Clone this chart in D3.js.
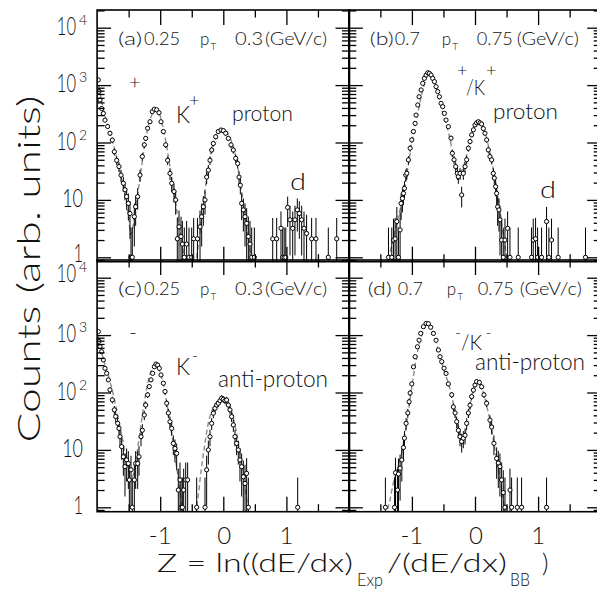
<!DOCTYPE html>
<html><head><meta charset="utf-8">
<script src="https://cdn.jsdelivr.net/npm/d3@7"></script>
<style>
body{margin:0;background:#fff}
svg{display:block}
text{font-family:Lato,"Liberation Sans",Arial,sans-serif;font-weight:300;fill:#111}
</style>
</head><body>
<svg id="chart" width="597" height="597"></svg>
<script>
// ---------- DATA ----------
// Panel (a): positive particles, 0.25 < pT < 0.3 GeV/c
const zA = [-1.981,-1.970,-1.954,-1.928,-1.901,-1.875,-1.833,-1.796,-1.759,-1.727,-1.690,-1.653,-1.621,-1.584,-1.558,-1.532,-1.505,-1.479,-1.463,-1.442,-1.410,-1.389,-1.357,-1.320,-1.283,-1.252,-1.230,-1.199,-1.162,-1.125,-1.093,-1.056,-1.019,-0.987,-0.950,-0.913,-0.882,-0.845,-0.818,-0.781,-0.755,-0.729,-0.702,-0.670,-0.649,-0.618,-0.581,-0.544,-0.501,-0.470,-0.410,-0.369,-0.343,-0.316,-0.290,-0.264,-0.237,-0.211,-0.184,-0.158,-0.121,-0.079,-0.036,0.001,0.038,0.080,0.122,0.159,0.196,0.228,0.249,0.270,0.291,0.318,0.344,0.370,0.397,0.423,0.450,0.492,0.783,0.846,0.914,0.941,0.965,0.990,1.020,1.057,1.100,1.136,1.173,1.205,1.242,1.279,1.320,1.400,1.469,1.664,1.797];
const cA = [1230,780,550,390,320,245,190,145,110,69,49,38,27,19.5,15,11.4,8.7,5.8,1,1,5.1,7.6,11.4,27,57,91,118,177,230,345,380,370,330,230,155,91,49,29,19.5,14,10,2.1,3.4,2.3,1.7,1,1.7,1,1,2.1,2.1,3.4,5.1,7.6,10,25,33,49,74,96,126,155,165,161,145,118,91,74,53,43,25,18,8.7,6.7,5.1,3.9,2.3,1.7,1,1,2.1,2.1,3.2,1,1,1,7.4,4.5,3.2,4.5,6.7,5.8,4.5,3.2,2.6,2.1,2.1,1,2.1];
const fzA = [-2.0,-1.95,-1.9,-1.85,-1.8,-1.75,-1.7,-1.65,-1.6,-1.55,-1.5,-1.47,-1.44,-1.4,-1.35,-1.3,-1.25,-1.2,-1.15,-1.1,-1.07,-1.04,-1.0,-0.95,-0.9,-0.85,-0.8,-0.75,-0.7,-0.65,-0.6,-0.55,-0.5,-0.45,-0.4,-0.35,-0.3,-0.25,-0.2,-0.15,-0.1,-0.05,0.0,0.05,0.1,0.15,0.2,0.25,0.3,0.35,0.4,0.45,0.5];
const fcA = [1400,700,380,230,150,100,60,35,20,11,5,2.5,3,6,14,35,85,170,270,350,370,355,290,170,90,40,17,8,3.5,1.6,0.8,0.5,0.5,0.7,1.5,4,12,30,65,105,140,160,165,155,125,90,55,28,12,5,2,0.9,0.5];

// Panel (b): positive particles, 0.7 < pT < 0.75 GeV/c
const zB = [-1.371,-1.319,-1.292,-1.266,-1.239,-1.213,-1.187,-1.171,-1.150,-1.134,-1.118,-1.097,-1.081,-1.055,-1.028,-1.002,-0.976,-0.949,-0.934,-0.907,-0.886,-0.854,-0.828,-0.802,-0.775,-0.749,-0.723,-0.696,-0.670,-0.643,-0.617,-0.591,-0.564,-0.538,-0.512,-0.485,-0.459,-0.422,-0.380,-0.359,-0.332,-0.306,-0.280,-0.264,-0.237,-0.211,-0.185,-0.158,-0.132,-0.105,-0.079,-0.053,-0.026,0.0,0.026,0.053,0.079,0.105,0.132,0.158,0.185,0.211,0.237,0.264,0.290,0.306,0.327,0.343,0.359,0.380,0.396,0.422,0.448,0.475,0.517,0.554,0.685,0.896,0.923,0.960,0.992,1.055,1.134,1.171,1.213,1.318,1.751];
const cB = [1,1,2,2.1,4.2,1,3,8.7,10.6,13,15.9,27.2,29.1,49.8,79.5,111,155,215,300,450,627,823,1074,1311,1497,1640,1600,1497,1311,1150,940,771,627,481,421,322,246,189,119,65,50,38,29,25.4,29,12.2,29,38,50,79.5,104,136,166,202,220,230,220,210,175,145,111,74.4,57,49.8,29,24,17,13,7.6,6.7,4.5,2,1,2,3.2,1,1,1,2,2.1,1,1,4.2,1,2,1,1];
const fzB = [-1.45,-1.4,-1.35,-1.3,-1.25,-1.2,-1.15,-1.1,-1.05,-1.0,-0.95,-0.9,-0.85,-0.8,-0.77,-0.75,-0.72,-0.7,-0.65,-0.6,-0.55,-0.5,-0.45,-0.4,-0.35,-0.3,-0.27,-0.24,-0.2,-0.15,-0.1,-0.05,0.0,0.05,0.1,0.15,0.2,0.25,0.3,0.35,0.4,0.45,0.5,0.55];
const fcB = [0.5,0.8,1.2,2,3.5,6,10,20,45,100,190,350,650,1050,1400,1600,1620,1550,1200,780,480,300,200,120,62,40,32,30,35,50,85,140,200,230,210,160,100,55,30,14,6,2.5,1,0.5];

// Panel (c): negative particles, 0.25 < pT < 0.3 GeV/c
const zC = [-1.981,-1.970,-1.954,-1.928,-1.901,-1.875,-1.849,-1.822,-1.796,-1.759,-1.727,-1.706,-1.674,-1.653,-1.637,-1.611,-1.584,-1.558,-1.532,-1.505,-1.489,-1.463,-1.442,-1.410,-1.389,-1.357,-1.336,-1.304,-1.283,-1.252,-1.230,-1.199,-1.173,-1.146,-1.120,-1.093,-1.067,-1.040,-1.014,-0.987,-0.950,-0.924,-0.897,-0.871,-0.845,-0.818,-0.792,-0.766,-0.739,-0.713,-0.686,-0.670,-0.649,-0.628,-0.596,-0.565,-0.422,-0.290,-0.264,-0.237,-0.211,-0.184,-0.158,-0.132,-0.105,-0.079,-0.052,-0.026,0.001,0.027,0.053,0.080,0.106,0.132,0.159,0.185,0.211,0.238,0.264,0.291,0.317,0.344,0.370,0.397,1.179];
const cC = [1148,781,627,514,369,264,216,166,111,74.4,49.8,38.1,29.1,23.7,17,11.4,7.6,5.1,6.7,5.8,3,4.5,1,3,5.8,5.8,7.6,17,22,40.5,60.5,91,127,166,216,281,313,300,264,202,145,104,65,44,31,23.7,13,10.6,8.7,2,3,1,1,2,3,3,1,1,4.5,10,17,29,43.6,53,60.5,65,72,79.5,76,72,74,60.5,49.8,38,27.2,17,13,10,6.7,5.1,3.4,2.6,3.9,1,1];
const fzC = [-2.0,-1.95,-1.9,-1.85,-1.8,-1.75,-1.7,-1.65,-1.6,-1.55,-1.5,-1.47,-1.44,-1.4,-1.35,-1.3,-1.25,-1.2,-1.15,-1.1,-1.07,-1.04,-1.0,-0.95,-0.9,-0.85,-0.8,-0.75,-0.7,-0.65,-0.6,-0.55,-0.5,-0.45,-0.4,-0.35,-0.3,-0.25,-0.2,-0.15,-0.1,-0.05,0.0,0.05,0.1,0.15,0.2,0.25,0.3,0.35,0.4,0.45];
const fcC = [1300,650,380,250,160,100,55,30,16,8,4.5,3.5,3.5,5,12,30,70,140,230,290,305,290,220,140,70,32,14,6,2.5,1,0.5,0.3,0.3,0.6,1.5,4.5,11,25,42,57,68,74,75,70,58,40,22,11,5,2,0.8,0.4];

// Panel (d): negative particles, 0.7 < pT < 0.75 GeV/c
const zD = [-1.420,-1.275,-1.260,-1.229,-1.213,-1.187,-1.160,-1.134,-1.118,-1.092,-1.065,-1.044,-1.028,-1.002,-0.975,-0.949,-0.912,-0.886,-0.860,-0.818,-0.775,-0.738,-0.702,-0.659,-0.617,-0.580,-0.554,-0.527,-0.490,-0.459,-0.422,-0.369,-0.343,-0.316,-0.290,-0.264,-0.237,-0.211,-0.185,-0.158,-0.132,-0.105,-0.079,-0.053,-0.026,0.0,0.026,0.069,0.105,0.142,0.184,0.237,0.264,0.300,0.343,0.369,0.395,0.422,0.448,0.475,0.554,0.580,0.670,0.738,1.134];
const cD = [1,1,4,2,3.8,4.8,6.7,11,16,29,44,69,98,141,280,420,625,815,1070,1400,1600,1580,1370,1070,815,550,420,345,265,215,141,91,56,44,31,22,17,14,16,18,29,44,60,85,110,135,155,150,126,91,65,33,25,13,7.1,5.9,5.1,3,1.8,1,2,1,1,1,1];
const fzD = [-1.45,-1.4,-1.35,-1.3,-1.25,-1.2,-1.15,-1.1,-1.05,-1.0,-0.95,-0.9,-0.85,-0.8,-0.77,-0.75,-0.72,-0.7,-0.65,-0.6,-0.55,-0.5,-0.45,-0.4,-0.35,-0.3,-0.25,-0.2,-0.15,-0.1,-0.05,0.0,0.03,0.07,0.1,0.15,0.2,0.25,0.3,0.35,0.4,0.45,0.5];
const fcD = [0.5,0.8,1.3,2.5,4,6,10,22,50,130,290,580,950,1350,1550,1580,1500,1380,1000,650,400,260,180,120,70,35,20,15,20,40,85,135,150,145,125,85,50,28,13,6,3,1.3,0.6];

// Labels
const panelTags = ["(a)", "(b)", "(c)", "(d)"];
const ptLow = ["0.25", "0.7", "0.25", "0.7"];
const ptHigh = ["0.3", "0.75", "0.3", "0.75"];
const yMajorTicks = [1, 10, 100, 1000, 10000];
const yTickExp = ["", "", "2", "3", "4"];
const xMajorTicks = [-1, 0, 1];
const xMinorTicks = [-1.5, -0.5, 0.5, 1.5];
const xTickLabels = ["-1", "0", "1"];

// ---------- LAYOUT ----------
const svg = d3.select("#chart");
const cols = [[97.1, 349.5], [348.8, 601.2]];
const rows = [{top: 10, one: 257.3}, {top: 260, one: 507.3}];
const PH = 251.7, DEC = 57.4;
const panels = [
  {z: zA, c: cA, fz: fzA, fc: fcA, col: 0, row: 0},
  {z: zB, c: cB, fz: fzB, fc: fcB, col: 1, row: 0},
  {z: zC, c: cC, fz: fzC, fc: fcC, col: 0, row: 1},
  {z: zD, c: cD, fz: fzD, fc: fcD, col: 1, row: 1}
];

function txt(g, s, x, y, size, o = {}) {
  const t = g.append("text").attr("x", x).attr("y", y).attr("font-size", size).text(s);
  if (o.anchor) t.attr("text-anchor", o.anchor);
  if (o.len) t.attr("textLength", o.len).attr("lengthAdjust", "spacingAndGlyphs");
  return t;
}
// horizontally condensed text via a scale transform
function ctxt(g, s, x, y, size, sx, anchor) {
  return g.append("text").attr("transform", `translate(${x},${y}) scale(${sx},1)`)
    .attr("font-size", size).attr("text-anchor", anchor || "start").text(s);
}

panels.forEach((p, i) => {
  const [x0, x1] = cols[p.col];
  const top = rows[p.row].top, bot = top + PH, one = rows[p.row].one;
  const x = d3.scaleLinear().domain([-2, 2]).range([x0, x1]);
  const y = d3.scaleLog().domain([1, 1e4]).range([one, one - 4 * DEC]);
  const g = svg.append("g");
  const cid = "clip" + i;
  g.append("clipPath").attr("id", cid).append("rect")
    .attr("x", x0).attr("y", top).attr("width", x1 - x0).attr("height", PH);

  // fit curve
  const fitPts = p.fz.map((v, k) => [v, p.fc[k]]);
  g.append("path").attr("clip-path", `url(#${cid})`)
    .attr("d", d3.line().x(d => x(d[0])).y(d => y(Math.max(d[1], 0.3))).curve(d3.curveMonotoneX)(fitPts))
    .attr("fill", "none").attr("stroke", "#8a8a8a").attr("stroke-width", 1.4).attr("stroke-dasharray", "5,3");

  // data points with error bars
  const pts = p.z.map((v, k) => ({z: v, c: p.c[k], e: Math.sqrt(p.c[k]) + 1.3}));
  const dg = g.append("g").attr("clip-path", `url(#${cid})`);
  dg.selectAll("line.err").data(pts).join("line").attr("class", "err")
    .attr("x1", d => x(d.z)).attr("x2", d => x(d.z))
    .attr("y1", d => y(d.c + d.e)).attr("y2", d => y(Math.max(d.c - d.e, 0.3)))
    .attr("stroke", "#000").attr("stroke-width", 1);
  dg.selectAll("circle").data(pts).join("circle")
    .attr("cx", d => x(d.z)).attr("cy", d => y(d.c)).attr("r", 2.1)
    .attr("fill", "#fff").attr("stroke", "#000").attr("stroke-width", 1);

  // frame
  g.append("rect").attr("x", x0).attr("y", top).attr("width", x1 - x0).attr("height", PH)
    .attr("fill", "none").attr("stroke", "#000").attr("stroke-width", 1.6);

  // y ticks (left and right)
  const inside = v => y(v) >= top - 0.5 && y(v) <= bot + 0.5;
  const yMaj = yMajorTicks.filter(inside);
  const yMin = [];
  for (let n = -1; n <= 4; n++) for (let k = 2; k <= 9; k++) { const v = k * Math.pow(10, n); if (inside(v)) yMin.push(v); }
  const strip = s => s.select(".domain").remove();
  const tickStyle = s => s.selectAll("line").attr("stroke", "#000").attr("stroke-width", 1.3);
  [[d3.axisRight, x0], [d3.axisLeft, x1]].forEach(([ax, xp]) => {
    g.append("g").attr("transform", `translate(${xp},0)`)
      .call(ax(y).tickValues(yMaj).tickSize(14).tickFormat("")).call(strip).call(tickStyle);
    g.append("g").attr("transform", `translate(${xp},0)`)
      .call(ax(y).tickValues(yMin).tickSize(7.5).tickFormat("")).call(strip).call(tickStyle);
  });
  // x ticks (top and bottom)
  [[d3.axisBottom, top], [d3.axisTop, bot]].forEach(([ax, yp]) => {
    g.append("g").attr("transform", `translate(0,${yp})`)
      .call(ax(x).tickValues(xMajorTicks).tickSize(15).tickFormat("")).call(strip).call(tickStyle);
    g.append("g").attr("transform", `translate(0,${yp})`)
      .call(ax(x).tickValues(xMinorTicks).tickSize(7.5).tickFormat("")).call(strip).call(tickStyle);
  });

  // y tick labels
  if (p.col === 0) {
    yMajorTicks.forEach((v, k) => {
      let yy = y(v) + 7;
      if (p.row === 1 && v === 10000) yy = y(v) + 4.5;
      if (p.row === 0 && v === 1) yy = y(v) + 5;
      if (yTickExp[k]) {
        ctxt(svg, "10", 76, yy, 25, 0.66, "end");
        txt(svg, yTickExp[k], 79, yy - 10, 14);
      } else if (v === 1) {
        ctxt(svg, "1", 83, yy, 25, 0.66, "end");
      } else {
        ctxt(svg, "10", 83, yy, 25, 0.72, "end");
      }
    });
  }
  // x tick labels
  if (p.row === 1) {
    xMajorTicks.forEach((v, k) => txt(svg, xTickLabels[k], x(v) + (v === 0 ? 1 : 0), 543.5, 24, {anchor: "middle"}));
  }

  // pT annotation
  const bl = top + 35;
  const off = p.col === 0 ? [21, 47, 103, 138, 168] : (p.row === 0 ? [21, 46, 93, 128, 168] : [19, 49, 98, 129, 171]);
  txt(svg, panelTags[i], x0 + off[0], bl, 17, {len: 24});
  txt(svg, ptLow[i], x0 + off[1], bl, 17, {len: ptLow[i].length > 3 ? 36 : 25});
  txt(svg, "p", x0 + off[2], bl, 17);
  txt(svg, "T", x0 + off[2] + 10.5, bl + 5, 10);
  txt(svg, ptHigh[i], x0 + off[3], bl, 17, {len: ptHigh[i].length > 3 ? 36 : 28});
  txt(svg, "(GeV/c)", x0 + off[4], bl, 17, {len: 62});
});

// particle labels
txt(svg, "+", 129, 89, 20);
txt(svg, "K", 176, 123, 23, {len: 14});
txt(svg, "+", 189, 106, 18);
txt(svg, "proton", 232, 121, 22, {len: 61});
txt(svg, "d", 290, 190, 24, {len: 16});

txt(svg, "+", 457, 76, 18);
txt(svg, "/K", 466, 95, 22, {len: 19});
txt(svg, "+", 486, 76, 18);
txt(svg, "proton", 493, 119, 22, {len: 65});
txt(svg, "d", 540, 198, 24, {len: 16});

txt(svg, "-", 129, 339, 20, {len: 8});
txt(svg, "K", 176, 375, 23, {len: 14});
txt(svg, "-", 192, 361, 16, {len: 6});
txt(svg, "anti-proton", 218, 387, 23, {len: 110});

txt(svg, "-", 455, 338, 16, {len: 6});
txt(svg, "/K", 461, 350, 22, {len: 21});
txt(svg, "-", 485.5, 338, 16, {len: 6});
txt(svg, "anti-proton", 475, 370, 23, {len: 110});

// axis titles
txt(svg, "Counts (arb. units)", -269, 40, 31, {anchor: "middle", len: 347}).attr("transform", "rotate(-90)");
txt(svg, "Z =  ln((dE/dx)", 157, 571.5, 25, {len: 196});
txt(svg, "Exp", 357, 586, 18, {len: 26});
txt(svg, "/(dE/dx)", 387, 571.5, 25, {len: 120});
txt(svg, "BB", 510, 586, 18, {len: 20});
txt(svg, ")", 542, 571.5, 25);
</script>
</body></html>
